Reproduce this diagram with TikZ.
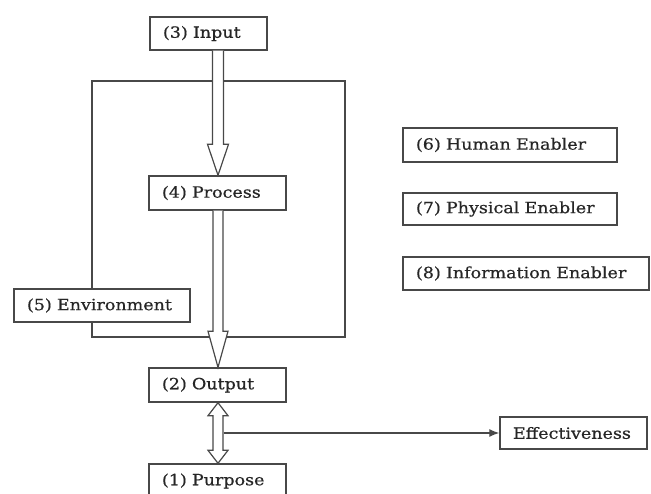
\documentclass[tikz,border=0pt]{standalone}
\usepackage{fontspec}
\setmainfont{DejaVu Serif}[FakeStretch=1.13,FakeBold=0.6]
\usetikzlibrary{calc,arrows.meta}
\definecolor{lc}{HTML}{484848}
\definecolor{tc}{HTML}{262626}
\tikzset{
  box/.style={draw=lc, line width=1.4pt, fill=white, minimum height=33pt,
    inner xsep=13pt, inner ysep=0pt, text width=#1-26pt, align=left,
    text=tc, font=\fontsize{15.5}{18}\selectfont},
  frame/.style={draw=lc, line width=1.4pt},
  blockarrow/.style={draw=lc, line width=1.2pt, fill=white, line join=miter},
  conn/.style={draw=lc, line width=1.3pt, -{Latex[length=10pt,width=8pt]}}
}
\begin{document}
\begin{tikzpicture}[x=1pt,y=-1pt]
\useasboundingbox (0,0) rectangle (651,494);
% system boundary
\node[frame, minimum width=253pt, minimum height=256pt, inner sep=0pt] (sys) at (218.5,209) {};
% boxes
\node[box=117pt] (input) at (208.5,33.5) {(3) Input};
\node[box=137pt, minimum height=34pt] (process) at (217.5,193) {(4) Process};
\node[box=176pt] (env) at (102,305.5) {(5) Environment};
\node[box=137pt, minimum height=34pt] (output) at (217.5,385) {(2) Output};
\node[box=137pt, minimum height=34pt] (purpose) at (217.5,481) {(1) Purpose};
\node[box=214pt, minimum height=34pt] (hum) at (510,145) {(6) Human Enabler};
\node[box=214pt, minimum height=32pt] (phys) at (510,209) {(7) Physical Enabler};
\node[box=246pt] (info) at (526,273.5) {(8) Information Enabler};
\node[box=147pt, minimum height=32pt] (eff) at (573.5,433) {Effectiveness};
% axis of the flow arrows
\coordinate (ax) at (218,0);
% input -> process
\path[blockarrow]
  ($(input.south -| ax)+(-5.5,0)$) -- ($(process.north -| ax)+(-5.5,-31)$)
  -- ($(process.north -| ax)+(-10.5,-31)$) -- (process.north -| ax)
  -- ($(process.north -| ax)+(10.5,-31)$) -- ($(process.north -| ax)+(5.5,-31)$)
  -- ($(input.south -| ax)+(5.5,0)$);
% process -> output
\path[blockarrow]
  ($(process.south -| ax)+(-5,0)$) -- ($(output.north -| ax)+(-5,-36)$)
  -- ($(output.north -| ax)+(-10,-36)$) -- (output.north -| ax)
  -- ($(output.north -| ax)+(10,-36)$) -- ($(output.north -| ax)+(5,-36)$)
  -- ($(process.south -| ax)+(5,0)$);
% output <-> purpose
\path[blockarrow]
  (output.south -| ax) -- ($(output.south -| ax)+(10,13)$) -- ($(output.south -| ax)+(5,13)$)
  -- ($(purpose.north -| ax)+(5,-13)$) -- ($(purpose.north -| ax)+(10,-13)$)
  -- (purpose.north -| ax) -- ($(purpose.north -| ax)+(-10,-13)$)
  -- ($(purpose.north -| ax)+(-5,-13)$) -- ($(output.south -| ax)+(-5,13)$)
  -- ($(output.south -| ax)+(-10,13)$) -- cycle;
% to effectiveness
\coordinate (ej) at ($(ax |- eff.west)+(5.5,0)$);
\draw[conn] (ej) -- (eff.west);
\end{tikzpicture}
\end{document}
